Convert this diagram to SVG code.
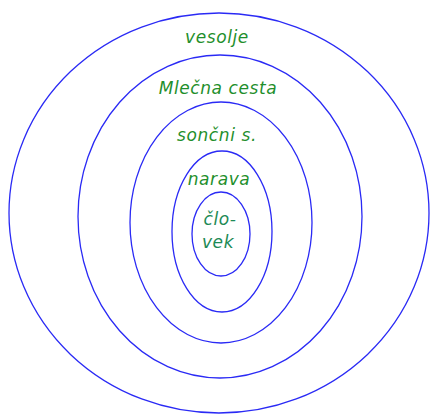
<svg xmlns="http://www.w3.org/2000/svg" width="430" height="415" viewBox="0 0 430 415">
<style>
.ring{fill:none;stroke:#2a2af5;stroke-width:1.3}
.lbl{font-family:"DejaVu Sans",sans-serif;font-style:italic;font-size:17px;letter-spacing:0.6px;fill:#1f8f2c;text-anchor:middle}
</style>
<rect width="430" height="415" fill="#ffffff"/>
<g id="vesolje"><ellipse class="ring" cx="219" cy="213" rx="210" ry="200"/><text class="lbl" x="217" y="43">vesolje</text></g>
<g id="mlecna-cesta"><ellipse class="ring" cx="220" cy="216.5" rx="142" ry="161.5"/><text class="lbl" x="218" y="94">Mlečna cesta</text></g>
<g id="soncni-s"><ellipse class="ring" cx="221" cy="222.5" rx="91" ry="120.5"/><text class="lbl" x="217" y="141">sončni s.</text></g>
<g id="narava"><ellipse class="ring" cx="222" cy="231.5" rx="50" ry="80.5"/><text class="lbl" x="219" y="185">narava</text></g>
<g id="clovek"><ellipse class="ring" cx="221" cy="234" rx="29" ry="42"/><text class="lbl" style="fill:#1d8a55"><tspan x="220" y="225">člo-</tspan><tspan x="218" y="248">vek</tspan></text></g>
<g id="connectors"/>
</svg>
